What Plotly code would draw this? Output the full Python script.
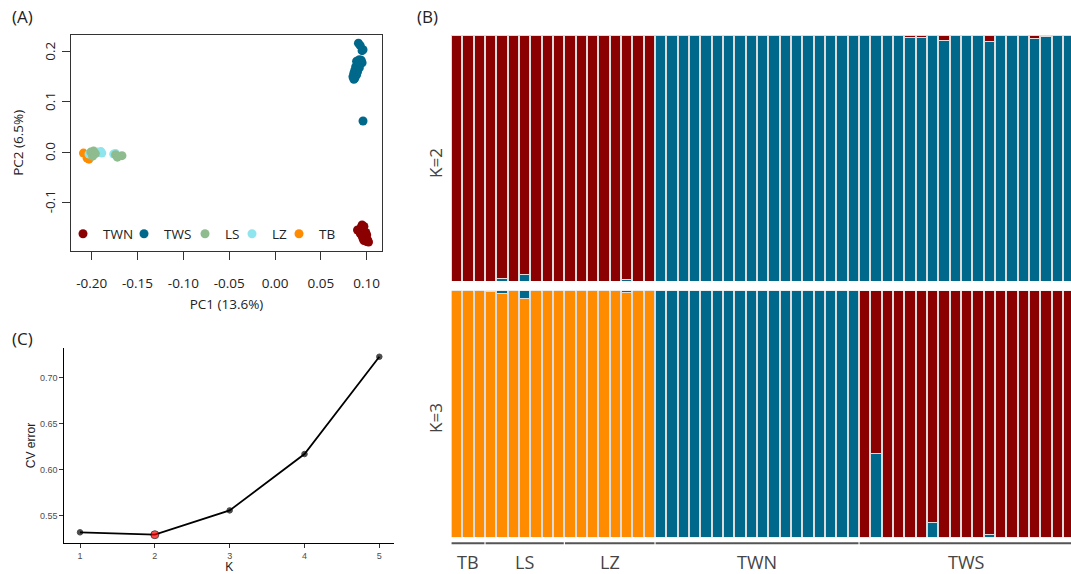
import plotly.graph_objects as go

# ---------------- Panel A: PCA ----------------
pca_groups = ["TWN", "TWS", "LS", "LZ", "TB"]
pca_colors = {"TWN": "#8B0000", "TWS": "#00688B", "LS": "#8FBC8F", "LZ": "#8EE5EE", "TB": "#FF8C00"}
legend_dot_px = [84, 145, 206, 253, 300]   # legend entry positions (layout), in pixels

twn_pc1 = [0.095, 0.097, 0.094, 0.090, 0.092, 0.096, 0.099, 0.093, 0.097,
           0.100, 0.095, 0.098, 0.096, 0.099, 0.101, 0.097, 0.100, 0.102]
twn_pc2 = [-0.145, -0.148, -0.150, -0.155, -0.156, -0.158, -0.160, -0.162, -0.163,
           -0.165, -0.167, -0.170, -0.172, -0.174, -0.175, -0.176, -0.178, -0.179]
tws_pc1 = [0.091, 0.093, 0.096, 0.095, 0.092, 0.094, 0.089, 0.095, 0.091, 0.088,
           0.092, 0.087, 0.090, 0.086, 0.089, 0.085, 0.087, 0.086, 0.096]
tws_pc2 = [0.217, 0.212, 0.204, 0.202, 0.184, 0.183, 0.181, 0.178, 0.175, 0.170,
           0.168, 0.163, 0.160, 0.157, 0.154, 0.150, 0.147, 0.145, 0.062]
ls_pc1 = [-0.201, -0.198, -0.199, -0.196, -0.174, -0.172, -0.167]
ls_pc2 = [0.000, 0.002, -0.008, -0.003, -0.005, -0.010, -0.007]
lz_pc1 = [-0.192, -0.189, -0.194, -0.203, -0.176, -0.174, -0.199, -0.190]
lz_pc2 = [-0.001, -0.002, 0.000, -0.004, -0.004, -0.003, -0.006, 0.001]
tb_pc1 = [-0.209, -0.205, -0.203]
tb_pc2 = [-0.002, -0.012, -0.014]

pca_x_ticks = [-0.20, -0.15, -0.10, -0.05, 0.00, 0.05, 0.10]
pca_x_ticktext = ["-0.20", "-0.15", "-0.10", "-0.05", "0.00", "0.05", "0.10"]
pca_y_ticks = [-0.1, 0.0, 0.1, 0.2]
pca_y_ticktext = ["-0.1", "0.0", "0.1", "0.2"]

# ---------------- Panel C: CV error ----------------
cv_k = [1, 2, 3, 4, 5]
cv_error = [0.5315, 0.5289, 0.5554, 0.6168, 0.7228]
best_k = 2

# ---------------- Panel B: ADMIXTURE ----------------
pop_names = ["TB", "LS", "LZ", "TWN", "TWS"]
pop_sizes = [3, 7, 8, 18, 19]

k2_blue = [0, 0, 0, 0, 0.01, 0, 0.025, 0, 0, 0, 0, 0, 0, 0, 0, 0.007, 0, 0,
           1, 1, 1, 1, 1, 1, 1, 1, 1, 1, 1, 1, 1, 1, 1, 1, 1, 1,
           1, 1, 1, 1, 0.99, 0.988, 1, 0.977, 1, 1, 1, 0.972, 1, 1, 1, 0.984, 0.993, 1, 1]
k2_red = [1, 1, 1, 1, 0.99, 1, 0.975, 1, 1, 1, 1, 1, 1, 1, 1, 0.993, 1, 1,
          0, 0, 0, 0, 0, 0, 0, 0, 0, 0, 0, 0, 0, 0, 0, 0, 0, 0,
          0, 0, 0, 0, 0.01, 0.012, 0, 0.023, 0, 0, 0, 0.028, 0, 0, 0, 0.016, 0.007, 0, 0]

k3_orange = [1, 1, 1, 0.995, 0.987, 1, 0.97, 1, 1, 1, 1, 1, 1, 1, 1, 0.991, 1, 1,
             0, 0, 0, 0, 0, 0, 0, 0, 0, 0, 0, 0, 0, 0, 0, 0, 0, 0,
             0, 0, 0, 0, 0, 0, 0, 0, 0, 0, 0, 0, 0, 0, 0, 0, 0, 0, 0]
k3_blue = [0, 0, 0, 0.005, 0.013, 0, 0.03, 0, 0, 0, 0, 0, 0, 0, 0, 0.009, 0, 0,
           1, 1, 1, 1, 1, 1, 1, 1, 1, 1, 1, 1, 1, 1, 1, 1, 1, 1,
           0, 0.34, 0, 0, 0, 0, 0.06, 0, 0, 0, 0, 0.01, 0, 0, 0, 0, 0, 0, 0]
k3_red = [0, 0, 0, 0, 0, 0, 0, 0, 0, 0, 0, 0, 0, 0, 0, 0, 0, 0,
          0, 0, 0, 0, 0, 0, 0, 0, 0, 0, 0, 0, 0, 0, 0, 0, 0, 0,
          1, 0.66, 1, 1, 1, 1, 0.94, 1, 1, 1, 1, 0.99, 1, 1, 1, 1, 1, 1, 1]

ADM_RED = "#8B0000"
ADM_BLUE = "#00688B"
ADM_ORANGE = "#FF8C00"

W, H = 1071, 574
def px_x(v):
    return v / W
def px_y(v):
    return 1 - v / H

SANS = "Open Sans"
ARIAL = "Liberation Sans"

fig = go.Figure()

# Panel A traces (one single-entry legend per group so the entries can sit close together)
pca_data = {
    "TB": (tb_pc1, tb_pc2),
    "LZ": (lz_pc1, lz_pc2),
    "LS": (ls_pc1, ls_pc2),
    "TWS": (tws_pc1, tws_pc2),
    "TWN": (twn_pc1, twn_pc2),
}
legend_ids = {g: ("legend" if i == 0 else f"legend{i + 1}") for i, g in enumerate(pca_groups)}
for g in ["TB", "LZ", "LS", "TWS", "TWN"]:
    xs, ys = pca_data[g]
    fig.add_trace(go.Scatter(
        x=xs, y=ys, mode="markers", name=g,
        marker=dict(color=pca_colors[g], size=9, line=dict(width=0)),
        xaxis="x", yaxis="y", legend=legend_ids[g], showlegend=True,
    ))

# Panel C traces
fig.add_trace(go.Scatter(
    x=cv_k, y=cv_error, mode="lines+markers",
    line=dict(color="black", width=1.8),
    marker=dict(color=["red" if k == best_k else "black" for k in cv_k],
                size=[8 if k == best_k else 5.5 for k in cv_k]),
    xaxis="x2", yaxis="y2", showlegend=False,
))

# Panel B traces
ind = list(range(sum(pop_sizes)))
bar_line = dict(color="#dcdcdc", width=1)
for vals, col in [(k2_blue, ADM_BLUE), (k2_red, ADM_RED)]:
    fig.add_trace(go.Bar(x=ind, y=vals, marker=dict(color=col, line=bar_line),
                         xaxis="x3", yaxis="y3", showlegend=False))
for vals, col in [(k3_orange, ADM_ORANGE), (k3_blue, ADM_BLUE), (k3_red, ADM_RED)]:
    fig.add_trace(go.Bar(x=ind, y=vals, marker=dict(color=col, line=bar_line),
                         xaxis="x4", yaxis="y4", showlegend=False))

bar_x_range = [-1.03, 54.2]
bar_x_domain = [px_x(445), 1.0]
pca_y_domain = [px_y(250.7), px_y(35)]

legend_layouts = {}
for g, dot in zip(pca_groups, legend_dot_px):
    legend_layouts[legend_ids[g]] = dict(
        orientation="h", x=px_x(dot - 21), y=px_y(234), xanchor="left", yanchor="middle",
        bgcolor="rgba(0,0,0,0)", font=dict(family=SANS, size=13.5, color="#222"),
        itemwidth=30,
    )

fig.update_layout(
    width=W, height=H, margin=dict(l=0, r=0, t=0, b=0),
    paper_bgcolor="white", plot_bgcolor="white",
    barmode="stack", bargap=0.1,
    font=dict(family=SANS, color="#222"),
    showlegend=True,
    **legend_layouts,
    # Panel A
    xaxis=dict(domain=[px_x(71), px_x(382)], range=[-0.2226, 0.1167],
               tickvals=pca_x_ticks, ticktext=pca_x_ticktext,
               ticks="outside", ticklen=8, tickcolor="#333", showline=True, linecolor="#333",
               linewidth=1, mirror=True, showgrid=False, zeroline=False, ticklabelstandoff=12,
               tickfont=dict(family=SANS, size=13.5, color="#222"),
               title=dict(text="PC1 (13.6%)", font=dict(family=SANS, size=13.5, color="#222"), standoff=8),
               anchor="y"),
    yaxis=dict(domain=pca_y_domain, range=[-0.1963, 0.2332],
               tickvals=pca_y_ticks, showticklabels=False,
               ticks="outside", ticklen=8, tickcolor="#333", showline=True, linecolor="#333",
               linewidth=1, mirror=True, showgrid=False, zeroline=False,
               anchor="x"),
    # Panel C
    xaxis2=dict(domain=[px_x(64.3), px_x(394.3)], range=[0.79, 5.2],
                tickvals=cv_k, ticks="outside", ticklen=4, tickcolor="#333",
                showline=True, linecolor="black", linewidth=1, showgrid=False, zeroline=False,
                tickfont=dict(family=ARIAL, size=9, color="#4D4D4D"),
                title=dict(text="K", font=dict(family=ARIAL, size=12, color="#222"), standoff=2),
                anchor="y2"),
    yaxis2=dict(domain=[px_y(542.7), px_y(348.3)], range=[0.5202, 0.732],
                tickvals=[0.55, 0.60, 0.65, 0.70], tickformat=".2f",
                ticks="outside", ticklen=4, tickcolor="#333",
                showline=True, linecolor="black", linewidth=1, showgrid=False, zeroline=False,
                tickfont=dict(family=ARIAL, size=9, color="#4D4D4D"),
                title=dict(text="CV error", font=dict(family=ARIAL, size=12, color="#222"), standoff=1),
                anchor="x2"),
    # Panel B
    xaxis3=dict(domain=bar_x_domain, range=bar_x_range, visible=False, anchor="y3"),
    yaxis3=dict(domain=[px_y(281), px_y(35)], range=[0, 1], visible=False, anchor="x3"),
    xaxis4=dict(domain=bar_x_domain, range=bar_x_range, visible=False, anchor="y4"),
    yaxis4=dict(domain=[px_y(537.3), px_y(290.7)], range=[0, 1], visible=False, anchor="x4"),
)

annotations = [
    dict(text="(A)", x=px_x(10), y=px_y(17), xref="paper", yref="paper",
         xanchor="left", yanchor="middle", showarrow=False, font=dict(family=SANS, size=17, color="#222")),
    dict(text="(C)", x=px_x(10), y=px_y(338), xref="paper", yref="paper",
         xanchor="left", yanchor="middle", showarrow=False, font=dict(family=SANS, size=17, color="#222")),
    dict(text="(B)", x=px_x(415), y=px_y(17), xref="paper", yref="paper",
         xanchor="left", yanchor="middle", showarrow=False, font=dict(family=SANS, size=17, color="#222")),
    dict(text="K=2", x=px_x(435), y=px_y(163), xref="paper", yref="paper", textangle=-90,
         xanchor="center", yanchor="middle", showarrow=False, font=dict(family=SANS, size=17, color="#444")),
    dict(text="K=3", x=px_x(435), y=px_y(418), xref="paper", yref="paper", textangle=-90,
         xanchor="center", yanchor="middle", showarrow=False, font=dict(family=SANS, size=17, color="#444")),
    # rotated y title of panel A (R style)
    dict(text="PC2 (6.5%)", x=px_x(18), y=(pca_y_domain[0] + pca_y_domain[1]) / 2,
         xref="paper", yref="paper", textangle=-90, xanchor="center", yanchor="middle",
         showarrow=False, font=dict(family=SANS, size=13.5, color="#222")),
]
# rotated y tick labels of panel A (R style, parallel to the axis)
for v, t in zip(pca_y_ticks, pca_y_ticktext):
    annotations.append(dict(text=t, x=px_x(50), y=v, xref="paper", yref="y", textangle=-90,
                            xanchor="center", yanchor="middle", showarrow=False,
                            font=dict(family=SANS, size=13.5, color="#222")))

shapes = []
start = 0
for name, n in zip(pop_names, pop_sizes):
    x0 = start - 0.45
    x1 = start + n - 1 + 0.45
    shapes.append(dict(type="line", xref="x4", yref="paper", x0=x0, x1=x1,
                       y0=px_y(543.3), y1=px_y(543.3), line=dict(color="#555", width=2)))
    annotations.append(dict(text=name, x=start + (n - 1) / 2, y=px_y(562), xref="x4", yref="paper",
                            xanchor="center", yanchor="middle", showarrow=False,
                            font=dict(family=SANS, size=18, color="#444")))
    start += n

fig.update_layout(annotations=annotations, shapes=shapes)

fig.write_html("out.html")
